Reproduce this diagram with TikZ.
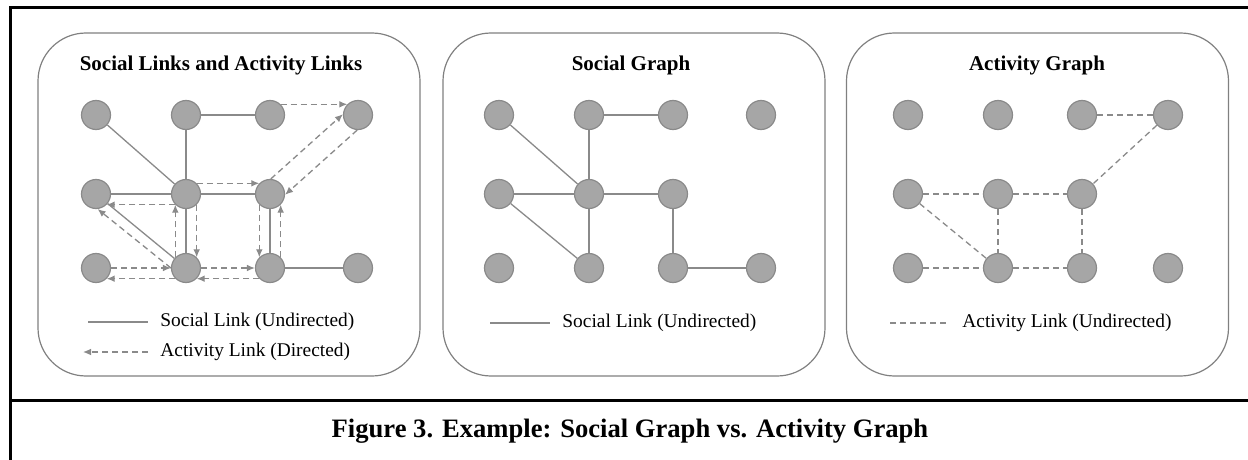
\documentclass[tikz,border=0pt]{standalone}
\usepackage{fontspec}
\setmainfont{Liberation Serif}
\usetikzlibrary{arrows.meta,positioning,calc}
\definecolor{linkgray}{RGB}{138,138,138}
\definecolor{usergray}{RGB}{166,166,166}
\definecolor{panelgray}{RGB}{128,128,128}
\tikzset{
    frame/.style    = {draw=black, line width=1.5pt},
    panel/.style    = {draw=panelgray, rectangle, rounded corners=24pt, line width=0.6pt, minimum width=191pt, minimum height=171.5pt},
    user/.style     = {draw=linkgray, fill=usergray, circle, minimum size=14.5pt, inner sep=0pt, line width=0.6pt},
    social/.style   = {draw=linkgray, line width=0.65pt},
    activity/.style = {draw=linkgray, line width=0.65pt, dash pattern=on 3pt off 2pt},
    title/.style    = {font=\bfseries\fontsize{10.5}{12}\selectfont},
    legend/.style   = {anchor=west, inner sep=0pt, font=\fontsize{9.7}{12}\selectfont},
    caption/.style  = {font=\bfseries\fontsize{13.3}{16}\selectfont}
}

\begin{document}
\begin{tikzpicture}[x=0.5pt, y=-0.5pt, >={Latex[length=4pt,width=3.4pt]}]
    \useasboundingbox (0,0) rectangle (1248,460);
    \draw [frame] (1248,8) -| (10,460);
    \draw [frame] (10,400) -- (1248,400);

    % social links and activity links
    \node [panel] (links_panel) at (229,204.5) {};
    \node [title] (links_title) at (221,65) {Social Links and Activity Links};
    \node [user] (l11) at (96,115) {};
    \node [user, right of=l11, node distance=45pt]   (l12) {};
    \node [user, right of=l12, node distance=42pt]   (l13) {};
    \node [user, right of=l13, node distance=44pt]   (l14) {};
    \node [user, below of=l11, node distance=39.5pt] (l21) {};
    \node [user, right of=l21, node distance=45pt]   (l22) {};
    \node [user, right of=l22, node distance=42pt]   (l23) {};
    \node [user, below of=l21, node distance=37pt]   (l31) {};
    \node [user, right of=l31, node distance=45pt]   (l32) {};
    \node [user, right of=l32, node distance=42pt]   (l33) {};
    \node [user, right of=l33, node distance=44pt]   (l34) {};

    \draw [social] (l11) -- (l22);
    \draw [social] (l12) -- (l22);
    \draw [social] (l12) -- (l13);
    \draw [social] (l21) -- (l22);
    \draw [social] (l22) -- (l23);
    \draw [social] (l21) -- (l32);
    \draw [social] (l22) -- (l32);
    \draw [social] (l23) -- (l33);
    \draw [social] (l33) -- (l34);

    \draw [activity, ->] (l13.45)  -- (l14.135);
    \draw [activity, ->] (l23.87)  -- (l14.177);
    \draw [activity, ->] (l14.267) -- (l23.357);
    \draw [activity, ->] (l22.45)  -- (l23.135);
    \draw [activity, ->] (l22.225) -- (l21.315);
    \draw [activity, ->] (l32.180) -- (l21.276);
    \draw [activity, ->] (l32.135) -- (l22.225);
    \draw [activity, ->] (l22.315) -- (l32.45);
    \draw [activity, ->] (l23.225) -- (l33.135);
    \draw [activity, ->] (l33.45)  -- (l23.315);
    \draw [activity, ->] (l31) -- (l32);
    \draw [activity, ->] (l32.225) -- (l31.315);
    \draw [activity, ->] (l32) -- (l33);
    \draw [activity, ->] (l33.225) -- (l32.315);

    \node [legend] (links_leg1) at (160,322) {Social Link (Undirected)};
    \node [legend] (links_leg2) at (160,352) {Activity Link (Directed)};
    \coordinate [left=6pt of links_leg1]  (links_leg1_b);
    \coordinate [left=36pt of links_leg1] (links_leg1_a);
    \coordinate [left=6pt of links_leg2]  (links_leg2_b);
    \coordinate [left=38.5pt of links_leg2] (links_leg2_a);
    \draw [social] (links_leg1_a) -- (links_leg1_b);
    \draw [activity, ->] (links_leg2_b) -- (links_leg2_a);

    % social graph
    \node [panel] (social_panel) at (634,204.5) {};
    \node [title] (social_title) at (631,65) {Social Graph};
    \node [user] (s11) at (499,115) {};
    \node [user, right of=s11, node distance=45pt]   (s12) {};
    \node [user, right of=s12, node distance=42pt]   (s13) {};
    \node [user, right of=s13, node distance=44pt]   (s14) {};
    \node [user, below of=s11, node distance=39.5pt] (s21) {};
    \node [user, right of=s21, node distance=45pt]   (s22) {};
    \node [user, right of=s22, node distance=42pt]   (s23) {};
    \node [user, below of=s21, node distance=37pt]   (s31) {};
    \node [user, right of=s31, node distance=45pt]   (s32) {};
    \node [user, right of=s32, node distance=42pt]   (s33) {};
    \node [user, right of=s33, node distance=44pt]   (s34) {};

    \draw [social] (s11) -- (s22);
    \draw [social] (s12) -- (s22);
    \draw [social] (s12) -- (s13);
    \draw [social] (s21) -- (s22);
    \draw [social] (s22) -- (s23);
    \draw [social] (s21) -- (s32);
    \draw [social] (s22) -- (s32);
    \draw [social] (s23) -- (s33);
    \draw [social] (s33) -- (s34);

    \node [legend] (social_leg) at (562,323) {Social Link (Undirected)};
    \coordinate [left=6pt of social_leg]  (social_leg_b);
    \coordinate [left=36pt of social_leg] (social_leg_a);
    \draw [social] (social_leg_a) -- (social_leg_b);

    % activity graph
    \node [panel] (activity_panel) at (1037.5,204.5) {};
    \node [title] (activity_title) at (1037,65) {Activity Graph};
    \node [user] (a11) at (908,115) {};
    \node [user, right of=a11, node distance=45pt]   (a12) {};
    \node [user, right of=a12, node distance=42pt]   (a13) {};
    \node [user, right of=a13, node distance=43pt]   (a14) {};
    \node [user, below of=a11, node distance=39.5pt] (a21) {};
    \node [user, right of=a21, node distance=45pt]   (a22) {};
    \node [user, right of=a22, node distance=42pt]   (a23) {};
    \node [user, below of=a21, node distance=37pt]   (a31) {};
    \node [user, right of=a31, node distance=45pt]   (a32) {};
    \node [user, right of=a32, node distance=42pt]   (a33) {};
    \node [user, right of=a33, node distance=43pt]   (a34) {};

    \draw [activity] (a13) -- (a14);
    \draw [activity] (a14) -- (a23);
    \draw [activity] (a21) -- (a22);
    \draw [activity] (a22) -- (a23);
    \draw [activity] (a21) -- (a32);
    \draw [activity] (a22) -- (a32);
    \draw [activity] (a23) -- (a33);
    \draw [activity] (a31) -- (a32);
    \draw [activity] (a32) -- (a33);

    \node [legend] (activity_leg) at (962,323) {Activity Link (Undirected)};
    \coordinate [left=7pt of activity_leg]  (activity_leg_b);
    \coordinate [left=36pt of activity_leg] (activity_leg_a);
    \draw [activity] (activity_leg_a) -- (activity_leg_b);

    \node [caption] (fig_caption) at (630,431) {Figure 3. Example: Social Graph vs. Activity Graph};
\end{tikzpicture}
\end{document}
